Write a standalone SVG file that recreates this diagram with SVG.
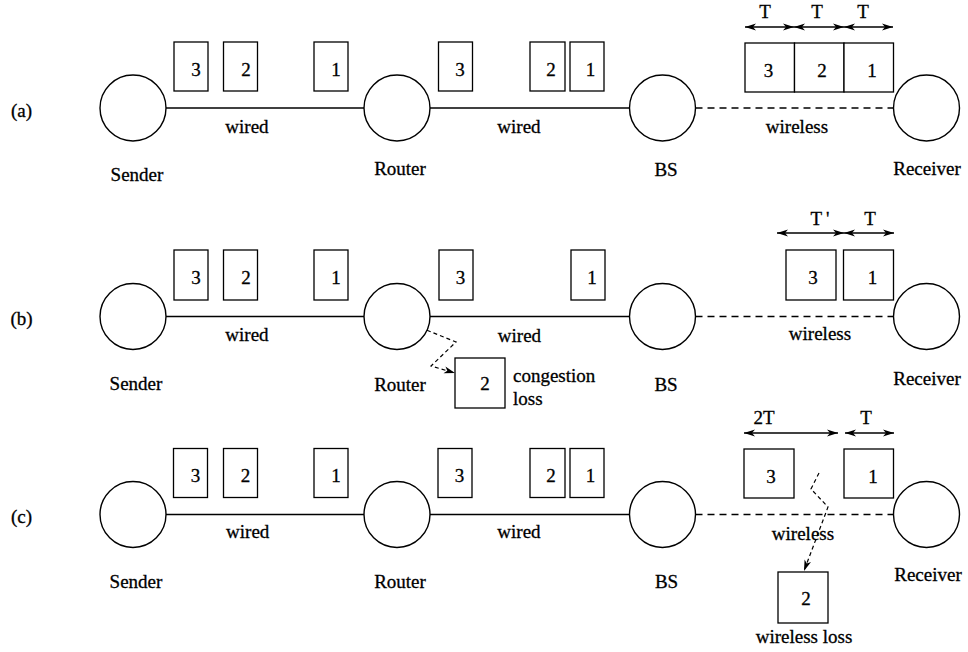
<svg xmlns="http://www.w3.org/2000/svg" width="968" height="652" viewBox="0 0 968 652">
<style>
  text { font-family: "Liberation Serif", "Times New Roman", "DejaVu Serif", serif; font-size: 19px; fill: #000; stroke: #000; stroke-width: 0.3; }
  .m { text-anchor: middle; }
  .node { fill: #fff; stroke: #000; stroke-width: 1.4; }
  .pkt { fill: #fff; stroke: #000; stroke-width: 1.3; }
  .wire { stroke: #000; stroke-width: 1.4; fill: none; }
  .wl { stroke: #000; stroke-width: 1.4; fill: none; stroke-dasharray: 7 5; }
  .span { stroke: #000; stroke-width: 1.3; fill: none; marker-start: url(#ah); marker-end: url(#ah); }
  .loss { stroke: #000; stroke-width: 1.2; fill: none; stroke-dasharray: 4 3; marker-end: url(#ah2); }
</style>
<defs>
  <marker id="ah" markerUnits="userSpaceOnUse" markerWidth="12" markerHeight="8" refX="11" refY="4" orient="auto-start-reverse">
    <path d="M0,0.5 L11,4 L0,7.5 L3,4 z" fill="#000"/>
  </marker>
  <marker id="ah2" markerUnits="userSpaceOnUse" markerWidth="12" markerHeight="8" refX="11" refY="4" orient="auto">
    <path d="M0,0.5 L11,4 L0,7.5 L3,4 z" fill="#000"/>
  </marker>
</defs>

<!-- row labels -->
<text x="21.5" y="117" class="m">(a)</text>
<text x="21.5" y="325" class="m">(b)</text>
<text x="21.5" y="523" class="m">(c)</text>

<!-- connectors -->
<g id="connectors">
  <line class="wire" x1="166" y1="108" x2="364" y2="108"/>
  <line class="wire" x1="430" y1="108" x2="629.5" y2="108"/>
  <line class="wl" x1="695.5" y1="108" x2="893.5" y2="108"/>
  <line class="wire" x1="166" y1="316.5" x2="364" y2="316.5"/>
  <line class="wire" x1="430" y1="316.5" x2="629.5" y2="316.5"/>
  <line class="wl" x1="695.5" y1="316.5" x2="893.5" y2="316.5"/>
  <line class="wire" x1="166" y1="514.5" x2="364" y2="514.5"/>
  <line class="wire" x1="430" y1="514.5" x2="629.5" y2="514.5"/>
  <line class="wl" x1="695.5" y1="514.5" x2="893.5" y2="514.5"/>
  <!-- spacing arrows -->
  <line class="span" x1="745" y1="27" x2="794" y2="27"/>
  <line class="span" x1="794" y1="27" x2="844" y2="27"/>
  <line class="span" x1="844" y1="27" x2="893" y2="27"/>
  <line class="span" x1="777" y1="233" x2="844" y2="233"/>
  <line class="span" x1="844" y1="233" x2="894" y2="233"/>
  <line class="span" x1="744" y1="433" x2="838" y2="433"/>
  <line class="span" x1="845" y1="433" x2="894" y2="433"/>
  <!-- loss paths -->
  <polyline class="loss" points="414,325 456,342 431,366 455,373"/>
  <polyline class="loss" points="819,473 811,489 828,507 804,571"/>
</g>

<!-- row (a) -->
<g id="a-sender"><circle class="node" cx="133" cy="108" r="33"/><text x="137" y="181" class="m">Sender</text></g>
<g id="a-router"><circle class="node" cx="397" cy="108" r="33"/><text x="400" y="175" class="m">Router</text></g>
<g id="a-bs"><circle class="node" cx="662.5" cy="108" r="33"/><text x="666" y="176" class="m">BS</text></g>
<g id="a-receiver"><circle class="node" cx="926.5" cy="108" r="33"/><text x="927" y="175" class="m">Receiver</text></g>
<g id="a-labels">
  <text x="247" y="133" class="m">wired</text>
  <text x="519" y="133" class="m">wired</text>
  <text x="797" y="133" class="m">wireless</text>
  <text x="765" y="18" class="m">T</text>
  <text x="817" y="18" class="m">T</text>
  <text x="863" y="18" class="m">T</text>
</g>
<g id="a-packets">
  <rect class="pkt" x="174" y="42" width="34" height="49"/><text x="196" y="76" class="m">3</text>
  <rect class="pkt" x="223.5" y="42" width="34" height="49"/><text x="246" y="76" class="m">2</text>
  <rect class="pkt" x="314" y="42" width="34" height="49"/><text x="336" y="76" class="m">1</text>
  <rect class="pkt" x="438.5" y="42" width="34" height="49"/><text x="460" y="76" class="m">3</text>
  <rect class="pkt" x="530" y="42" width="35" height="49"/><text x="551" y="76" class="m">2</text>
  <rect class="pkt" x="570" y="42" width="34" height="49"/><text x="590.5" y="76" class="m">1</text>
  <rect class="pkt" x="745" y="43" width="49.5" height="49"/><text x="768.5" y="77" class="m">3</text>
  <rect class="pkt" x="794.5" y="43" width="49.5" height="49"/><text x="822" y="77" class="m">2</text>
  <rect class="pkt" x="844" y="43" width="49.5" height="49"/><text x="872" y="77" class="m">1</text>
</g>

<!-- row (b) -->
<g id="b-sender"><circle class="node" cx="133" cy="316.5" r="33"/><text x="136" y="390" class="m">Sender</text></g>
<g id="b-router"><circle class="node" cx="397" cy="316.5" r="33"/><text x="400" y="391" class="m">Router</text></g>
<g id="b-bs"><circle class="node" cx="662.5" cy="316.5" r="33"/><text x="666" y="391" class="m">BS</text></g>
<g id="b-receiver"><circle class="node" cx="926.5" cy="316.5" r="33"/><text x="927" y="385" class="m">Receiver</text></g>
<g id="b-labels">
  <text x="247" y="341" class="m">wired</text>
  <text x="519.5" y="341.5" class="m">wired</text>
  <text x="820" y="340" class="m">wireless</text>
  <text x="820" y="225" class="m">T<tspan dx="4">'</tspan></text>
  <text x="870" y="225" class="m">T</text>
  <text x="513" y="382">congestion</text>
  <text x="513" y="405">loss</text>
</g>
<g id="b-packets">
  <rect class="pkt" x="174" y="250" width="34" height="50"/><text x="196" y="284" class="m">3</text>
  <rect class="pkt" x="223.5" y="250" width="34" height="50"/><text x="246" y="284" class="m">2</text>
  <rect class="pkt" x="314" y="250" width="34" height="50"/><text x="336" y="284" class="m">1</text>
  <rect class="pkt" x="439" y="250" width="34" height="50"/><text x="460.5" y="284" class="m">3</text>
  <rect class="pkt" x="571" y="250" width="34" height="50"/><text x="592" y="284" class="m">1</text>
  <rect class="pkt" x="786" y="250" width="50" height="50"/><text x="813" y="284" class="m">3</text>
  <rect class="pkt" x="843.5" y="250" width="50" height="50"/><text x="872.5" y="284" class="m">1</text>
</g>
<g id="b-lost">
  <rect class="pkt" x="455" y="358" width="50" height="50"/><text x="485" y="390" class="m">2</text>
</g>

<!-- row (c) -->
<g id="c-sender"><circle class="node" cx="133" cy="514.5" r="33"/><text x="136" y="588" class="m">Sender</text></g>
<g id="c-router"><circle class="node" cx="397" cy="514.5" r="33"/><text x="400" y="588" class="m">Router</text></g>
<g id="c-bs"><circle class="node" cx="662.5" cy="514.5" r="33"/><text x="666.5" y="588" class="m">BS</text></g>
<g id="c-receiver"><circle class="node" cx="926.5" cy="514.5" r="33"/><text x="928" y="581" class="m">Receiver</text></g>
<g id="c-labels">
  <text x="247.7" y="538" class="m">wired</text>
  <text x="519" y="538" class="m">wired</text>
  <text x="803" y="540" class="m">wireless</text>
  <text x="764" y="424" class="m">2T</text>
  <text x="866" y="424" class="m">T</text>
  <text x="804" y="643" class="m">wireless loss</text>
</g>
<g id="c-packets">
  <rect class="pkt" x="173.5" y="448.5" width="34" height="49"/><text x="195.5" y="482" class="m">3</text>
  <rect class="pkt" x="223.5" y="448.5" width="34" height="49"/><text x="245.5" y="482" class="m">2</text>
  <rect class="pkt" x="314" y="448.5" width="34" height="49"/><text x="336" y="482" class="m">1</text>
  <rect class="pkt" x="438" y="448.5" width="34" height="49"/><text x="459.5" y="482" class="m">3</text>
  <rect class="pkt" x="530" y="448.5" width="35" height="49"/><text x="551" y="482" class="m">2</text>
  <rect class="pkt" x="570" y="448.5" width="34" height="49"/><text x="590.5" y="482" class="m">1</text>
  <rect class="pkt" x="744" y="449" width="50" height="49"/><text x="771" y="483" class="m">3</text>
  <rect class="pkt" x="844" y="449" width="49.5" height="49"/><text x="873" y="483" class="m">1</text>
</g>
<g id="c-lost">
  <rect class="pkt" x="778" y="572" width="50" height="51"/><text x="806" y="605" class="m">2</text>
</g>
</svg>
